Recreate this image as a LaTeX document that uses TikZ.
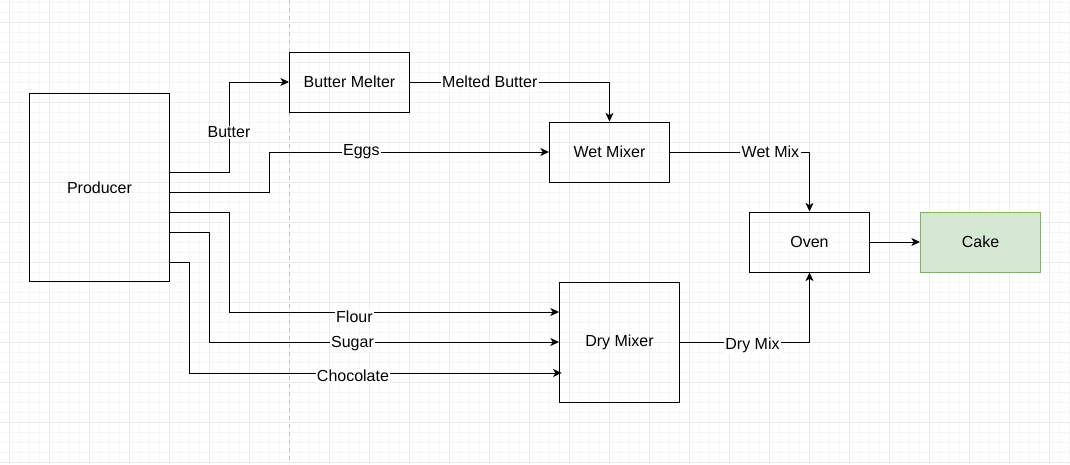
\documentclass[tikz,border=0pt]{standalone}
\usepackage{fontspec}
\setmainfont{Liberation Sans}
\usetikzlibrary{positioning, arrows.meta}

\begin{document}
\begin{tikzpicture}[x=0.75pt, y=-0.75pt, line width=0.75pt,
    box/.style={draw, minimum width=90pt, minimum height=45pt, inner sep=0pt, font=\fontsize{12}{14}\selectfont},
    lbl/.style={fill=white, inner sep=1pt, font=\fontsize{12}{14}\selectfont},
    flow/.style={-{Stealth[length=6.5pt, width=6pt, inset=1.8pt]}}]
    % background grid
    \useasboundingbox[fill=white] (0,0) rectangle (1070,464);
    \foreach \x in {9.5,19.5,...,1069.5} \draw[gray!6] (\x,0) -- (\x,464);
    \foreach \y in {2.5,12.5,...,462.5} \draw[gray!6] (0,\y) -- (1070,\y);
    \foreach \x in {9.5,49.5,...,1069.5} \draw[gray!16] (\x,0) -- (\x,464);
    \foreach \y in {22.5,62.5,...,462.5} \draw[gray!16] (0,\y) -- (1070,\y);
    \draw[gray!45, dash pattern=on 3pt off 3pt] (289.5,0) -- (289.5,464);

    \node[box, minimum width=104.6pt, minimum height=140.3pt] (producer) at (99.5,187.5) {Producer};
    \node[box] (melter) at (349.5,82) {Butter Melter};
    \node[box] (wet) at (609.5,152) {Wet Mixer};
    \node[box] (oven) at (809.5,242) {Oven};
    \node[box, right=37.5pt of oven, fill={rgb,255:red,213;green,232;blue,212}, draw={rgb,255:red,130;green,179;blue,102}] (cake) {Cake};
    \node[box, minimum height=90pt] (dry) at (619.5,342) {Dry Mixer};

    \draw[flow] ([yshift=11.6pt]producer.east) -| node[lbl, pos=0.72]{Butter} ([xshift=-45pt]melter.west) -- (melter.west);
    \draw[flow] ([yshift=-3.4pt]producer.east) -| ([xshift=-210pt]wet.west) -- node[lbl, pos=0.33]{Eggs} (wet.west);
    \draw[flow] (melter.east) -| node[lbl, pos=0.2]{Melted Butter} (wet.north);
    \draw[flow] (wet.east) -| node[lbl, pos=0.36]{Wet Mix} (oven.north);
    \draw[flow] ([yshift=-18.75pt]producer.east) -| ([xshift=-247.5pt, yshift=22.5pt]dry.west) -- node[lbl, pos=0.38, yshift=-3.5pt]{Flour} ([yshift=22.5pt]dry.west);
    \draw[flow] ([yshift=-33.75pt]producer.east) -| ([xshift=-262.5pt]dry.west) -- node[lbl, pos=0.41, yshift=-1pt]{Sugar} (dry.west);
    \draw[flow] ([yshift=-55.9pt]producer.east) -| ([xshift=-277.5pt, yshift=-23.25pt]dry.west) -- node[lbl, pos=0.44, yshift=-2pt]{Chocolate} ([xshift=2pt, yshift=-23.25pt]dry.west);
    \draw[flow] (dry.east) -| node[lbl, pos=0.28, yshift=-2.5pt]{Dry Mix} (oven.south);
    \draw[flow] (oven) -- (cake);
\end{tikzpicture}
\end{document}
